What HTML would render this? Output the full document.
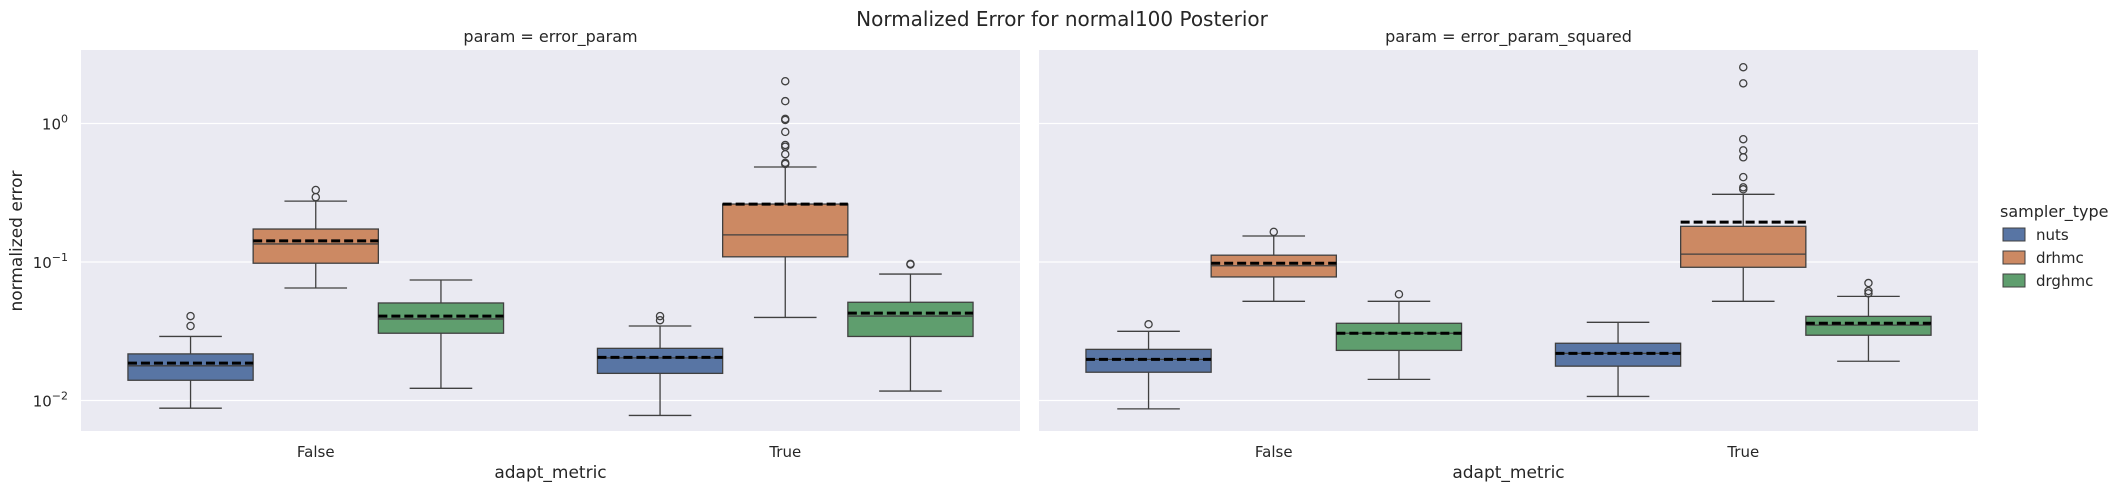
<!DOCTYPE html>
<html><head><meta charset="utf-8"><style>
html,body{margin:0;padding:0;background:#fff;}
svg{display:block;font-family:"DejaVu Sans","Liberation Sans",sans-serif;}
</style></head><body>
<svg id="chart" width="2127" height="492" viewBox="0 0 2127 492" xmlns="http://www.w3.org/2000/svg">
<text x="1062" y="26" font-size="20" text-anchor="middle" fill="#262626">Normalized Error for normal100 Posterior</text>
<g id="panels"></g>
<text transform="translate(22,241) rotate(-90)" font-size="17" text-anchor="middle" fill="#262626">normalized error</text>
<g>
<text x="2000" y="217" font-size="16" fill="#262626">sampler_type</text>
<rect x="2003" y="228" width="22" height="13" fill="#5875a4" stroke="#404040" stroke-width="1"/>
<text x="2036" y="240" font-size="15" fill="#262626">nuts</text>
<rect x="2003" y="251" width="22" height="13" fill="#cc8963" stroke="#404040" stroke-width="1"/>
<text x="2036" y="263" font-size="15" fill="#262626">drhmc</text>
<rect x="2003" y="274" width="22" height="13" fill="#5f9e6e" stroke="#404040" stroke-width="1"/>
<text x="2036" y="286" font-size="15" fill="#262626">drghmc</text>
</g>
</svg>
<script>
const panelTitles = ["param = error_param", "param = error_param_squared"];
const categories = ["False", "True"];
const hues = ["nuts", "drhmc", "drghmc"];
const yTickValues = [1, 0.1, 0.01];
const yTickExps = ["0", "−1", "−2"];
// order: panel0 False(nuts,drhmc,drghmc), panel0 True(...), panel1 False(...), panel1 True(...)
const whisLow = [0.0088,0.0649,0.01225, 0.0078,0.0398,0.0117, 0.0087,0.052,0.0142, 0.0107,0.052,0.0192];
const q1Vals = [0.0140,0.098,0.0306, 0.0157,0.109,0.029, 0.016,0.078,0.023, 0.0177,0.0916,0.0296];
const medianVals = [0.0178,0.135,0.0388, 0.0203,0.157,0.0407, 0.0198,0.094,0.0306, 0.0219,0.114,0.035];
const q3Vals = [0.0217,0.173,0.0506, 0.0238,0.262,0.0512, 0.0234,0.112,0.0361, 0.0259,0.181,0.0405];
const whisHigh = [0.029,0.275,0.0741, 0.0345,0.485,0.0818, 0.0316,0.154,0.052, 0.0367,0.308,0.0565];
const meanVals = [0.0186,0.142,0.0407, 0.0205,0.262,0.0427, 0.0198,0.098,0.0306, 0.0219,0.194,0.0361];
const outlierVals = [[0.0407,0.0345],[0.331,0.294],[], [0.0407,0.038],[2.02,1.45,1.08,1.06,0.87,0.70,0.68,0.60,0.52,0.51],[0.097,0.096],
  [0.0355],[0.165],[0.0585], [],[2.55,1.95,0.77,0.64,0.57,0.41,0.346,0.335],[0.0705,0.0617,0.0594]];

const NS = "http://www.w3.org/2000/svg";
const colors = ["#5875a4", "#cc8963", "#5f9e6e"];
const panelX = [81, 1039], panelW = 939, plotTop = 50, plotBottom = 431;
function yScale(v){ return 262 - (Math.log10(v) + 1) * 138.5; }
function mk(tag, attrs, parent){ const e = document.createElementNS(NS, tag); for (const k in attrs) e.setAttribute(k, attrs[k]); parent.appendChild(e); return e; }
const root = document.getElementById("panels");
const svgRoot = document.getElementById("chart");
panelTitles.forEach((pt, p) => {
  const x0 = panelX[p];
  const g = mk("g", {}, root);
  
  
  const bg = mk("rect", {x:x0, y:plotTop, width:panelW, height:plotBottom-plotTop, fill:"#eaeaf2"}, g);
  
  
  yTickValues.forEach((v, i) => {
    const y = yScale(v);
    const gl = mk("line", {x1:x0, x2:x0+panelW, y1:y, y2:y, stroke:"#fff", "stroke-width":1.3}, g);
    
    
    if (p === 0) {
      const t = mk("text", {x:68, y:y+6, "font-size":15, "text-anchor":"end", fill:"#262626"}, svgRoot);
      
      
      t.textContent = "10";
      const s = mk("tspan", {dy:-7, "font-size":11}, t);
      s.textContent = yTickExps[i];
    }
  });
  const tt = mk("text", {x:x0+panelW/2, y:42, "font-size":16, "text-anchor":"middle", fill:"#262626"}, g);
  
  
  tt.textContent = pt;
  const xl = mk("text", {x:x0+panelW/2, y:478, "font-size":17, "text-anchor":"middle", fill:"#262626"}, g);
  
  
  xl.textContent = "adapt_metric";
  const catW = panelW / categories.length;
  const bw = catW * 0.8 / hues.length;
  categories.forEach((c, ci) => {
    const cx = x0 + (ci + 0.5) * catW;
    const lab = mk("text", {x:cx, y:457, "font-size":15, "text-anchor":"middle", fill:"#262626"}, g);
    
    
    lab.textContent = c;
    hues.forEach((h, hi) => {
      const k = p*6 + ci*3 + hi;
      const bx = cx + (hi - 1) * bw;
      const bg2 = mk("g", {stroke:"#404040", "stroke-width":1.3}, g);
      
      
      const capW = bw / 2;
      mk("line", {x1:bx, x2:bx, y1:yScale(whisHigh[k]), y2:yScale(q3Vals[k])}, bg2);
      mk("line", {x1:bx, x2:bx, y1:yScale(q1Vals[k]), y2:yScale(whisLow[k])}, bg2);
      mk("line", {x1:bx-capW/2, x2:bx+capW/2, y1:yScale(whisHigh[k]), y2:yScale(whisHigh[k])}, bg2);
      mk("line", {x1:bx-capW/2, x2:bx+capW/2, y1:yScale(whisLow[k]), y2:yScale(whisLow[k])}, bg2);
      const yq3 = yScale(q3Vals[k]), yq1 = yScale(q1Vals[k]);
      mk("rect", {x:bx-bw/2, y:yq3, width:bw, height:yq1-yq3, fill:colors[hi]}, bg2);
      mk("line", {x1:bx-bw/2, x2:bx+bw/2, y1:yScale(medianVals[k]), y2:yScale(medianVals[k])}, bg2);
      outlierVals[k].forEach(v => {
        const o = mk("circle", {cx:bx, cy:yScale(v), r:3.6, fill:"none"}, bg2);
        
        
      });
      const m = mk("line", {x1:bx-bw/2, x2:bx+bw/2, y1:yScale(meanVals[k]), y2:yScale(meanVals[k]), stroke:"#000", "stroke-width":3, "stroke-dasharray":"9 4"}, g);
      
      
    });
  });
});
</script>
</body></html>
